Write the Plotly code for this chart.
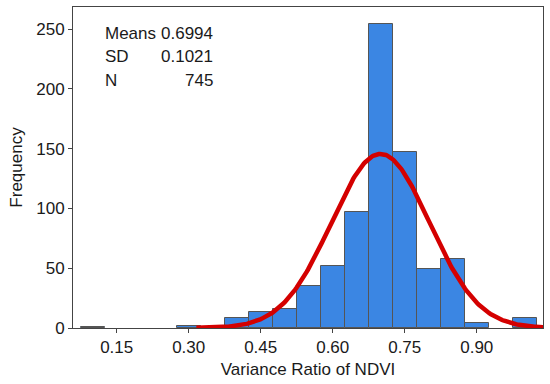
import numpy as np
import plotly.graph_objects as go

# Histogram data (bin centers, bin width 0.05)
bin_centers = [0.10, 0.30, 0.35, 0.40, 0.45, 0.50, 0.55, 0.60, 0.65, 0.70, 0.75, 0.80, 0.85, 0.90, 1.00]
frequencies = [1, 2, 1, 8, 13, 16, 35, 52, 97, 254, 147, 49, 58, 4, 8]
bin_width = 0.05

# Summary statistics shown on the chart
mean_val = 0.6994
sd_val = 0.1021
n_val = 745

x_ticks = [0.15, 0.30, 0.45, 0.60, 0.75, 0.90]
x_tick_labels = ["0.15", "0.30", "0.45", "0.60", "0.75", "0.90"]
y_ticks = [0, 50, 100, 150, 200, 250]

# Fitted normal curve from the displayed statistics
curve_x = np.linspace(0.316, 1.04, 300)
curve_y = n_val * bin_width * np.exp(-0.5 * ((curve_x - mean_val) / sd_val) ** 2) / (sd_val * np.sqrt(2 * np.pi))

fig = go.Figure()
fig.add_trace(go.Bar(
    x=bin_centers, y=frequencies, width=bin_width,
    marker=dict(color="#3b86e3", line=dict(color="#555555", width=1)),
    showlegend=False,
))
fig.add_trace(go.Scatter(
    x=curve_x, y=curve_y, mode="lines",
    line=dict(color="#d40000", width=4.5),
    showlegend=False, cliponaxis=True,
))

font = dict(family="Liberation Sans, Arial, sans-serif", size=17, color="#1a1a1a")

fig.update_layout(
    width=550, height=384,
    margin=dict(l=73, r=7, t=7, b=56, autoexpand=False),
    paper_bgcolor="white", plot_bgcolor="white",
    font=font,
    bargap=0,
    xaxis=dict(
        range=[0.059, 1.038], tickvals=x_ticks, ticktext=x_tick_labels,
        ticks="outside", ticklen=4, tickcolor="#444",
        showgrid=False, zeroline=False, automargin=False,
        showline=True, linecolor="#444", linewidth=1, mirror=True,
        title=dict(text="Variance Ratio of NDVI", font=font, standoff=6),
    ),
    yaxis=dict(
        range=[0, 268.4], tickvals=y_ticks,
        ticks="outside", ticklen=4, tickcolor="#444",
        showgrid=False, zeroline=False, automargin=False,
        showline=True, linecolor="#444", linewidth=1, mirror=True,
        title=dict(text="Frequency", font=font, standoff=9),
    ),
)

labels = ["Means", "SD", "N"]
values = [f"{mean_val:.4f}", f"{sd_val:.4f}", f"{n_val}"]
ys = [0.919, 0.845, 0.772]
for lab, val, yy in zip(labels, values, ys):
    fig.add_annotation(xref="paper", yref="paper", x=0.0638, y=yy, text=lab,
                       showarrow=False, xanchor="left", yanchor="middle", font=font)
    fig.add_annotation(xref="paper", yref="paper", x=0.302, y=yy, text=val,
                       showarrow=False, xanchor="right", yanchor="middle", font=font)

fig.write_html("out.html", config={"displayModeBar": False},
               post_script="document.body.style.margin='0';")
